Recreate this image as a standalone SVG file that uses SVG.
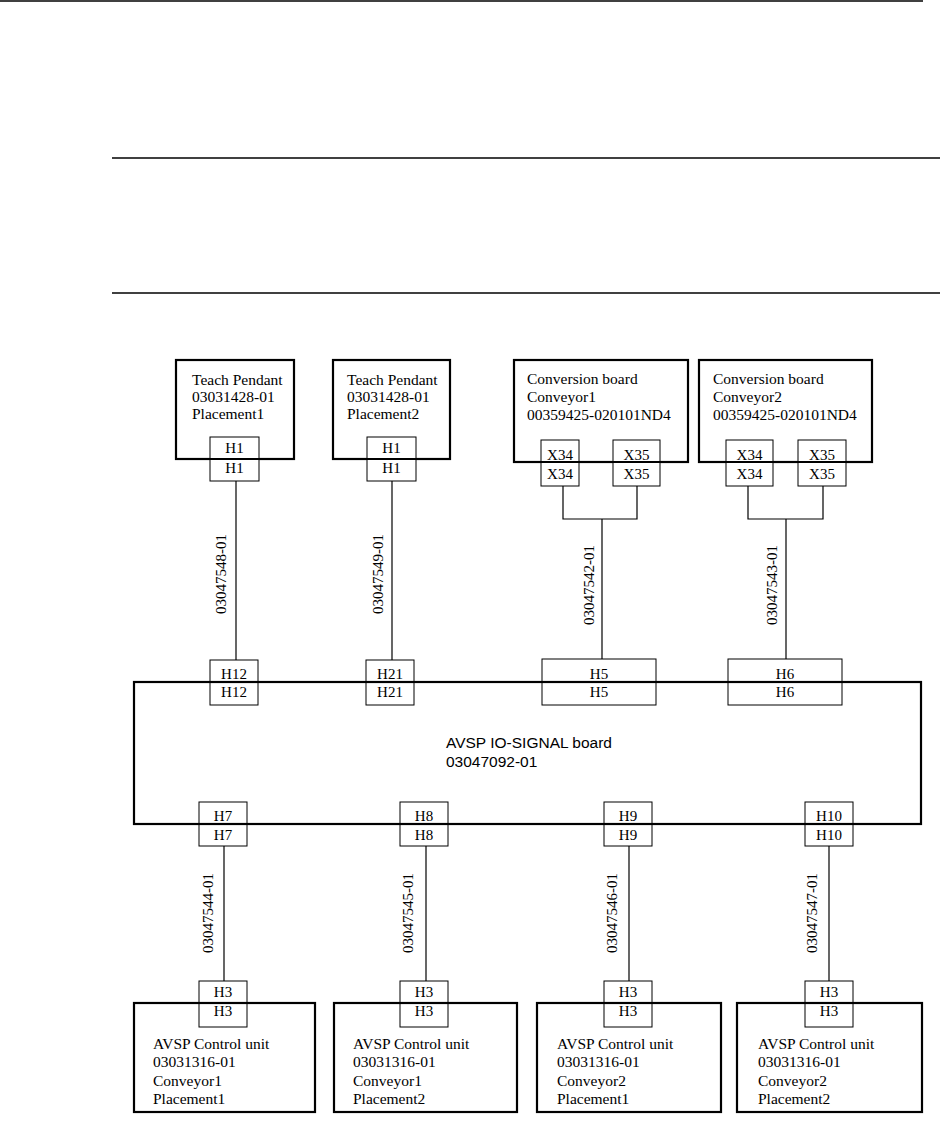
<svg xmlns="http://www.w3.org/2000/svg" width="940" height="1125" viewBox="0 0 940 1125">
<style>
.bg{fill:#fff}
.rule{stroke:#000;stroke-width:1.5;fill:none}
.box{fill:none;stroke:#000;stroke-width:2.2}
.con{fill:#fff;stroke:#000;stroke-width:1}
.wire{fill:none;stroke:#000;stroke-width:1.2}
.t{font-family:"Liberation Serif","Times New Roman",serif;font-size:15.5px;fill:#000}
.c{font-family:"Liberation Serif","Times New Roman",serif;font-size:15px;fill:#000;text-anchor:middle}
.s{font-family:"Liberation Sans",Arial,sans-serif;font-size:15.5px;fill:#000}
.lab{font-family:"Liberation Serif","Times New Roman",serif;font-size:15px;fill:#000;text-anchor:middle}
</style>
<rect class="bg" x="0" y="0" width="940" height="1125"/>
<g id="page-rules">
<line class="rule" x1="0" y1="1" x2="923" y2="1"/>
<line class="rule" x1="112" y1="158" x2="940" y2="158"/>
<line class="rule" x1="112" y1="293" x2="940" y2="293"/>
</g>
<g id="connectors">
<line class="wire" x1="236" y1="481" x2="236" y2="660"/>
<line class="wire" x1="392" y1="481" x2="392" y2="660"/>
<polyline class="wire" points="563,486 563,519 637,519 637,486"/>
<line class="wire" x1="602" y1="519" x2="602" y2="659"/>
<polyline class="wire" points="748,486 748,519 823,519 823,486"/>
<line class="wire" x1="786" y1="519" x2="786" y2="659"/>
<line class="wire" x1="224" y1="846" x2="224" y2="981"/>
<line class="wire" x1="426" y1="846" x2="426" y2="981"/>
<line class="wire" x1="629" y1="846" x2="629" y2="981"/>
<line class="wire" x1="829" y1="846" x2="829" y2="981"/>
<text class="lab" transform="translate(226,574) rotate(-90)">03047548-01</text>
<text class="lab" transform="translate(383,574) rotate(-90)">03047549-01</text>
<text class="lab" transform="translate(594,585) rotate(-90)">03047542-01</text>
<text class="lab" transform="translate(777,585) rotate(-90)">03047543-01</text>
<text class="lab" transform="translate(213,913) rotate(-90)">03047544-01</text>
<text class="lab" transform="translate(413,913) rotate(-90)">03047545-01</text>
<text class="lab" transform="translate(617,913) rotate(-90)">03047546-01</text>
<text class="lab" transform="translate(817,913) rotate(-90)">03047547-01</text>
</g>
<g id="teach-pendant-1">
<rect class="box" x="176" y="360" width="118" height="99"/>
<text class="t" x="192" y="385">Teach Pendant</text>
<text class="t" x="192" y="402">03031428-01</text>
<text class="t" x="192" y="419">Placement1</text>
<rect class="con" x="210" y="437" width="49" height="44"/>
<line class="wire" x1="210" y1="459" x2="259" y2="459"/>
<line class="box" x1="210" y1="459" x2="259" y2="459"/>
<text class="c" x="234.5" y="453">H1</text>
<text class="c" x="234.5" y="473">H1</text>
</g>
<g id="teach-pendant-2">
<rect class="box" x="333" y="360" width="117" height="99"/>
<text class="t" x="347" y="385">Teach Pendant</text>
<text class="t" x="347" y="402">03031428-01</text>
<text class="t" x="347" y="419">Placement2</text>
<rect class="con" x="367" y="437" width="49" height="44"/>
<line class="box" x1="367" y1="459" x2="416" y2="459"/>
<text class="c" x="391.5" y="453">H1</text>
<text class="c" x="391.5" y="473">H1</text>
</g>
<g id="conversion-board-1">
<rect class="box" x="514" y="360" width="174" height="102"/>
<text class="t" x="527" y="384">Conversion board</text>
<text class="t" x="527" y="402">Conveyor1</text>
<text class="t" x="527" y="420">00359425-020101ND4</text>
<rect class="con" x="541" y="440" width="38" height="46"/>
<line class="box" x1="541" y1="462" x2="579" y2="462"/>
<text class="c" x="560" y="460">X34</text>
<text class="c" x="560" y="479">X34</text>
<rect class="con" x="613" y="440" width="47" height="46"/>
<line class="box" x1="613" y1="462" x2="660" y2="462"/>
<text class="c" x="636.5" y="460">X35</text>
<text class="c" x="636.5" y="479">X35</text>
</g>
<g id="conversion-board-2">
<rect class="box" x="699" y="360" width="173" height="102"/>
<text class="t" x="713" y="384">Conversion board</text>
<text class="t" x="713" y="402">Conveyor2</text>
<text class="t" x="713" y="420">00359425-020101ND4</text>
<rect class="con" x="726" y="440" width="47" height="46"/>
<line class="box" x1="726" y1="462" x2="773" y2="462"/>
<text class="c" x="749.5" y="460">X34</text>
<text class="c" x="749.5" y="479">X34</text>
<rect class="con" x="798" y="440" width="48" height="46"/>
<line class="box" x1="798" y1="462" x2="846" y2="462"/>
<text class="c" x="822" y="460">X35</text>
<text class="c" x="822" y="479">X35</text>
</g>
<g id="io-signal-board">
<rect class="con" x="210" y="660" width="48" height="45"/>
<text class="c" x="234" y="679">H12</text>
<text class="c" x="234" y="697">H12</text>
<rect class="con" x="366" y="660" width="48" height="45"/>
<text class="c" x="390" y="679">H21</text>
<text class="c" x="390" y="697">H21</text>
<rect class="con" x="542" y="659" width="114" height="46"/>
<text class="c" x="599" y="679">H5</text>
<text class="c" x="599" y="697">H5</text>
<rect class="con" x="728" y="659" width="114" height="46"/>
<text class="c" x="785" y="679">H6</text>
<text class="c" x="785" y="697">H6</text>
<rect class="con" x="199" y="802" width="48" height="44"/>
<text class="c" x="223" y="821">H7</text>
<text class="c" x="223" y="840">H7</text>
<rect class="con" x="400" y="802" width="48" height="44"/>
<text class="c" x="424" y="821">H8</text>
<text class="c" x="424" y="840">H8</text>
<rect class="con" x="604" y="802" width="48" height="44"/>
<text class="c" x="628" y="821">H9</text>
<text class="c" x="628" y="840">H9</text>
<rect class="con" x="805" y="802" width="48" height="44"/>
<text class="c" x="829" y="821">H10</text>
<text class="c" x="829" y="840">H10</text>
<rect class="box" x="134" y="682" width="787" height="142"/>
<text class="s" x="446" y="748">AVSP IO-SIGNAL board</text>
<text class="s" x="446" y="767">03047092-01</text>
</g>
<g id="control-unit-1">
<rect class="con" x="199" y="981" width="48" height="46"/>
<rect class="box" x="134" y="1003" width="181" height="109"/>
<text class="c" x="223" y="997">H3</text>
<text class="c" x="223" y="1016">H3</text>
<text class="t" x="153" y="1049">AVSP Control unit</text>
<text class="t" x="153" y="1067">03031316-01</text>
<text class="t" x="153" y="1086">Conveyor1</text>
<text class="t" x="153" y="1104">Placement1</text>
</g>
<g id="control-unit-2">
<rect class="con" x="400" y="981" width="48" height="46"/>
<rect class="box" x="334" y="1003" width="183" height="109"/>
<text class="c" x="424" y="997">H3</text>
<text class="c" x="424" y="1016">H3</text>
<text class="t" x="353" y="1049">AVSP Control unit</text>
<text class="t" x="353" y="1067">03031316-01</text>
<text class="t" x="353" y="1086">Conveyor1</text>
<text class="t" x="353" y="1104">Placement2</text>
</g>
<g id="control-unit-3">
<rect class="con" x="604" y="981" width="48" height="46"/>
<rect class="box" x="537" y="1003" width="184" height="109"/>
<text class="c" x="628" y="997">H3</text>
<text class="c" x="628" y="1016">H3</text>
<text class="t" x="557" y="1049">AVSP Control unit</text>
<text class="t" x="557" y="1067">03031316-01</text>
<text class="t" x="557" y="1086">Conveyor2</text>
<text class="t" x="557" y="1104">Placement1</text>
</g>
<g id="control-unit-4">
<rect class="con" x="805" y="981" width="48" height="46"/>
<rect class="box" x="737" y="1003" width="185" height="109"/>
<text class="c" x="829" y="997">H3</text>
<text class="c" x="829" y="1016">H3</text>
<text class="t" x="758" y="1049">AVSP Control unit</text>
<text class="t" x="758" y="1067">03031316-01</text>
<text class="t" x="758" y="1086">Conveyor2</text>
<text class="t" x="758" y="1104">Placement2</text>
</g>
</svg>
